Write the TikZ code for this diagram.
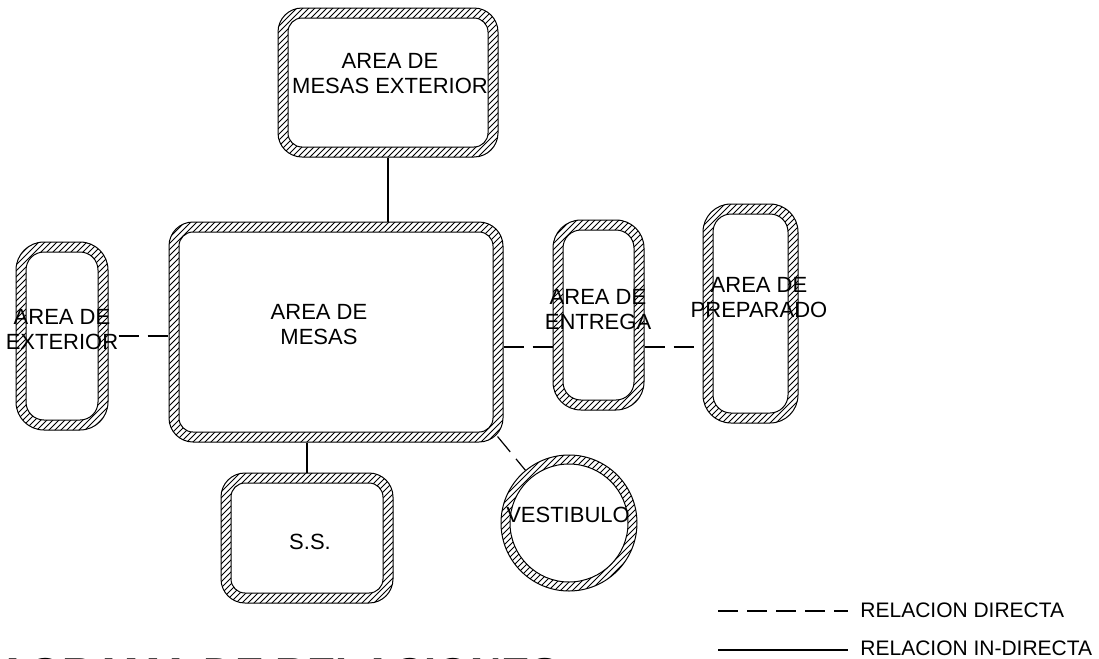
\documentclass[tikz,border=0pt]{standalone}
\usepackage{fontspec}
\setmainfont{Liberation Sans}
\usepackage{tikz}
\usetikzlibrary{patterns}

\begin{document}
\begin{tikzpicture}[x=0.5pt, y=0.5pt,
        wall/.style={draw, line width=0.5pt, pattern=north east lines, rounded corners=12pt, inner sep=0pt},
        hole/.style={draw, line width=0.5pt, fill=white, rounded corners=7pt, inner sep=0pt},
        tall/.style={rounded corners=14pt},
        tallhole/.style={rounded corners=9pt},
        lbl/.style={align=center, inner sep=0pt, font=\fontsize{11}{12.5}\selectfont},
        leyenda/.style={anchor=west, inner sep=0pt, font=\fontsize{10.5}{12}\selectfont},
        directa/.style={line width=0.6pt, dash pattern=on 10pt off 4.5pt},
        indirecta/.style={line width=0.6pt}]
            \useasboundingbox (0,0) rectangle (1099,-659);
            \clip (0,0) rectangle (1099,-659);
            % rooms: hatched wall, white inside
            \node[wall, minimum width=110pt, minimum height=74.5pt] (mesasext) at (388,-82.5) {};
            \node[hole, minimum width=100pt, minimum height=64.5pt] (mesasext-in) at (mesasext) {};
            \node[wall, minimum width=167pt, minimum height=110pt] (mesas) at (336,-332) {};
            \node[hole, minimum width=157pt, minimum height=100pt] (mesas-in) at (mesas) {};
            \node[wall, tall, minimum width=46pt, minimum height=94pt] (exterior) at (62,-336) {};
            \node[hole, tallhole, minimum width=36pt, minimum height=84pt] (exterior-in) at (exterior) {};
            \node[wall, tall, minimum width=45.5pt, minimum height=95pt] (entrega) at (598.5,-315) {};
            \node[hole, tallhole, minimum width=35.5pt, minimum height=85pt] (entrega-in) at (entrega) {};
            \node[wall, tall, minimum width=47.5pt, minimum height=109.5pt] (preparado) at (750.5,-313.5) {};
            \node[hole, tallhole, minimum width=37.5pt, minimum height=99.5pt] (preparado-in) at (preparado) {};
            \node[wall, minimum width=86pt, minimum height=65pt] (ss) at (307,-538) {};
            \node[hole, minimum width=76pt, minimum height=55pt] (ss-in) at (ss) {};
            \node[wall, circle, minimum size=68pt] (vestibulo) at (569,-523) {};
            \node[hole, circle, minimum size=59pt] (vestibulo-in) at (vestibulo) {};
            % relations
            \draw[indirecta] (mesasext.south) -- (mesasext.south |- mesas.north);
            \draw[indirecta] (ss.north) -- (ss.north |- mesas.south);
            \draw[directa] ([xshift=5pt]exterior.east) -- (exterior.east -| mesas.west);
            \draw[directa] ([yshift=-7.5pt]mesas.east) -- ([yshift=-7.5pt]mesas.east -| entrega.west);
            \draw[directa] ([yshift=-16pt]entrega.east) -- ([yshift=-16pt]entrega.east -| preparado.west);
            \draw[directa] ([shift={(-3pt,3pt)}]mesas.south east) -- (vestibulo);
            % labels
            \node[lbl] (mesasext-txt) at (390,-74) {AREA DE\\MESAS EXTERIOR};
            \node[lbl] (mesas-txt) at (319,-325) {AREA DE\\MESAS};
            \node[lbl] (exterior-txt) at (62,-330) {AREA DE\\EXTERIOR};
            \node[lbl] (entrega-txt) at (598,-309.5) {AREA DE\\ENTREGA};
            \node[lbl] (preparado-txt) at (759,-298) {AREA DE\\PREPARADO};
            \node[lbl] (ss-txt) at (310,-542) {S.S.};
            \node[lbl] (vestibulo-txt) at (568,-515) {VESTIBULO};
            % legend
            \node[leyenda] (directa-txt) at (860,-610) {RELACION DIRECTA};
            \node[leyenda] (indirecta-txt) at (860,-648) {RELACION IN-DIRECTA};
            \coordinate (directa-a) at (718,-611);
            \coordinate (indirecta-a) at (718,-650);
            \draw[directa] (directa-a) -- ([xshift=-6pt]directa-a -| directa-txt.west);
            \draw[indirecta] (indirecta-a) -- ([xshift=-6pt]indirecta-a -| indirecta-txt.west);
            % title, cut by the lower edge
            \node[anchor=base west, inner sep=0pt, font=\fontsize{21.6}{23}\selectfont\bfseries] (titulo) at (-46,-688) {DIAGRAMA DE RELACIONES};
\end{tikzpicture}
\end{document}
